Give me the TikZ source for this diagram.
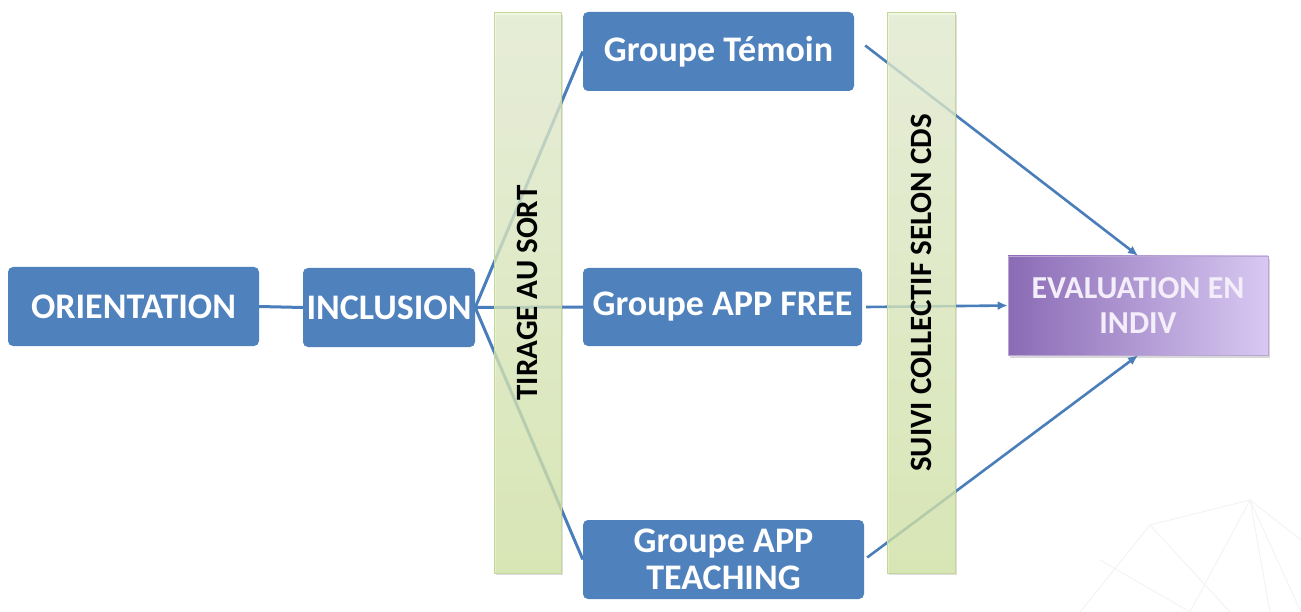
\documentclass[tikz,border=0pt]{standalone}
\usepackage{fontspec}
\setmainfont{Carlito}
\usetikzlibrary{shadows,arrows.meta}
\definecolor{boxblue}{HTML}{4F81BD}
\definecolor{lineblue}{HTML}{4A7EBB}
\definecolor{bartop}{HTML}{EAF3D6}
\definecolor{barbot}{HTML}{D6E9A6}
\definecolor{barborder}{HTML}{C3D69B}
\definecolor{evalleft}{HTML}{8A6BB5}
\definecolor{evalright}{HTML}{D8C8F2}
\definecolor{evaltext}{HTML}{F3EEFA}
\begin{document}
\begin{tikzpicture}[x=1pt,y=-1pt,
  bluebox/.style={rectangle, rounded corners=5pt, fill=boxblue, draw=none,
    text=white, font=\bfseries\fontsize{36}{37}\selectfont, inner sep=0pt, align=center},
  barbox/.style={rectangle, draw=barborder, line width=1pt, top color=bartop, bottom color=barbot,
    fill opacity=0.72, text opacity=1, inner sep=0pt,
    drop shadow={shadow xshift=2pt, shadow yshift=-2pt, opacity=0.25}},
  bartext/.style={rotate=90, font=\bfseries\fontsize{31}{34}\selectfont, text=black},
  conn/.style={draw=lineblue, line width=3pt},
  arr/.style={draw=lineblue, line width=2.6pt, -{Latex[length=10pt,width=9pt]}},
  mesh/.style={draw=gray!10, line width=0.8pt}
]
\useasboundingbox (0,0) rectangle (1301,612);
\fill[white] (0,0) rectangle (1301,612);

% faint background mesh
\draw[mesh] (1080,612) -- (1150,525) -- (1230,612);
\draw[mesh] (1150,525) -- (1250,500) -- (1301,540);
\draw[mesh] (1190,612) -- (1250,500) -- (1270,612);
\draw[mesh] (1100,560) -- (1190,612);
\draw[mesh] (1250,500) -- (1301,612);

% boxes
\node[bluebox, minimum width=251pt, minimum height=79pt] (ori) at (133.5,306.5) {ORIENTATION};
\node[bluebox, minimum width=172pt, minimum height=79pt] (inc) at (389,307.5) {INCLUSION};
\node[bluebox, minimum width=271pt, minimum height=79pt] (tem) at (718.5,51.5) {Groupe Témoin};
\node[bluebox, minimum width=279pt, minimum height=78pt] (free) at (722.5,307) {Groupe APP FREE};
\node[bluebox, minimum width=281pt, minimum height=79pt] (teach) at (723.5,559.5) {Groupe APP\\TEACHING};
\node[rectangle, minimum width=260pt, minimum height=99pt, left color=evalleft, right color=evalright,
  draw=evalleft!60, line width=0.6pt, text=evaltext, font=\bfseries\fontsize{32}{35}\selectfont, align=center,
  inner sep=0pt,
  drop shadow={shadow xshift=2pt, shadow yshift=-3pt, opacity=0.3}] (eval) at (1138,305.5) {EVALUATION EN\\INDIV};

% connectors
\draw[conn] (ori.east) -- (inc.west);
\draw[conn] (inc.east) -- (tem.west);
\draw[conn] (inc.east) -- (free.west);
\draw[conn] (inc.east) -- (teach.west);
\draw[arr] ([xshift=11pt,yshift=6pt]tem.east) -- (eval.north);
\draw[arr] ([xshift=4pt]free.east) -- (eval.west);
\draw[arr] ([xshift=3pt,yshift=2pt]teach.east) -- (eval.south);

% semi-transparent bars over the connectors
\node[barbox, minimum width=67pt, minimum height=560pt] (tir) at (527.5,293) {};
\node[bartext] (tirt) at (tir.center) {TIRAGE AU SORT};
\node[barbox, minimum width=68pt, minimum height=560pt] (suivi) at (921,293) {};
\node[bartext] (suivit) at (suivi.center) {SUIVI COLLECTIF SELON CDS};
\end{tikzpicture}
\end{document}
